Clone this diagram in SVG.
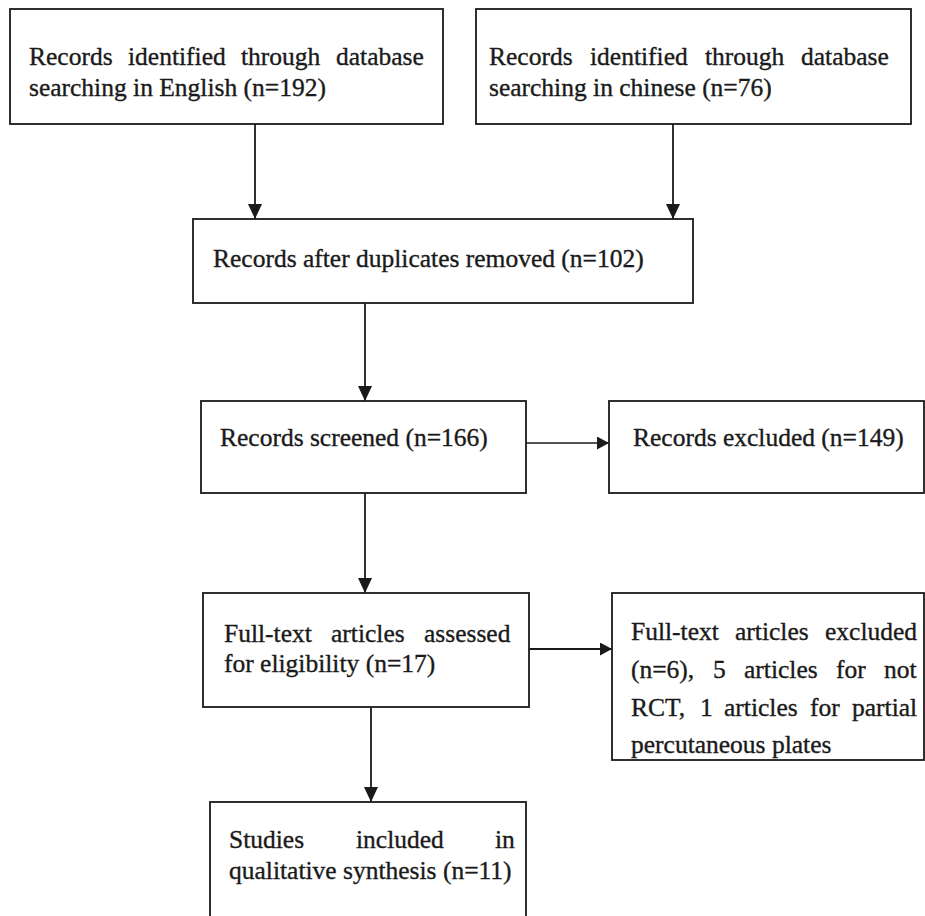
<svg xmlns="http://www.w3.org/2000/svg" width="925" height="916" viewBox="0 0 925 916">
<defs>
<style>
.box{fill:#fff;stroke:#1a1a1a;stroke-width:1.8}
.t{font-family:"Liberation Serif","Times New Roman",serif;font-size:25.5px;fill:#1a1a1a;stroke:#1a1a1a;stroke-width:0.35}
.c{fill:none;stroke:#1a1a1a;stroke-width:1.8}
.ch{fill:none;stroke:#1a1a1a;stroke-width:1.4}
</style>
<marker id="ah" viewBox="0 0 15 14" refX="15" refY="7" markerWidth="15" markerHeight="14" orient="auto" markerUnits="userSpaceOnUse">
<path d="M0,0 L15,7 L0,14 z" fill="#1a1a1a"/>
</marker>
<marker id="ahs" viewBox="0 0 12 13" refX="12" refY="6.5" markerWidth="12" markerHeight="13" orient="auto" markerUnits="userSpaceOnUse">
<path d="M0,0 L12,6.5 L0,13 z" fill="#1a1a1a"/>
</marker>
</defs>
<rect width="925" height="916" fill="#fff"/>

<g id="connectors">
<line class="c" x1="255" y1="124" x2="255" y2="219" marker-end="url(#ah)"/>
<line class="c" x1="673" y1="124" x2="673" y2="219" marker-end="url(#ah)"/>
<line class="c" x1="365" y1="303" x2="365" y2="401" marker-end="url(#ah)"/>
<line class="ch" x1="526" y1="443" x2="609" y2="443" marker-end="url(#ahs)"/>
<line class="c" x1="365" y1="493" x2="365" y2="593" marker-end="url(#ah)"/>
<line class="c" x1="529" y1="649" x2="612" y2="649" marker-end="url(#ahs)"/>
<line class="c" x1="371" y1="707" x2="371" y2="802" marker-end="url(#ah)"/>
</g>

<g id="n1">
<rect class="box" x="10" y="9" width="433" height="115"/>
<text class="t" y="65"><tspan x="29">Records</tspan><tspan x="128">identified</tspan><tspan x="241">through</tspan><tspan x="336">database</tspan></text>
<text class="t" x="29" y="96">searching in English (n=192)</text>
</g>

<g id="n2">
<rect class="box" x="476" y="9" width="435" height="115"/>
<text class="t" y="65"><tspan x="489">Records</tspan><tspan x="590">identified</tspan><tspan x="705">through</tspan><tspan x="801">database</tspan></text>
<text class="t" x="489" y="96">searching in chinese (n=76)</text>
</g>

<g id="n3">
<rect class="box" x="193" y="219" width="500" height="84"/>
<text class="t" x="213" y="267">Records after duplicates removed (n=102)</text>
</g>

<g id="n4">
<rect class="box" x="201" y="401" width="325" height="92"/>
<text class="t" x="220" y="446">Records screened (n=166)</text>
</g>

<g id="n5">
<rect class="box" x="609" y="401" width="315" height="92"/>
<text class="t" x="633" y="446">Records excluded (n=149)</text>
</g>

<g id="n6">
<rect class="box" x="203" y="593" width="326" height="114"/>
<text class="t" y="642"><tspan x="224">Full-text</tspan><tspan x="331">articles</tspan><tspan x="424">assessed</tspan></text>
<text class="t" x="224" y="672">for eligibility (n=17)</text>
</g>

<g id="n7">
<rect class="box" x="612" y="593" width="312" height="167"/>
<text class="t" y="640"><tspan x="631">Full-text</tspan><tspan x="735">articles</tspan><tspan x="825">excluded</tspan></text>
<text class="t" y="678"><tspan x="631">(n=6),</tspan><tspan x="713">5</tspan><tspan x="744">articles</tspan><tspan x="836">for</tspan><tspan x="884">not</tspan></text>
<text class="t" y="716"><tspan x="631">RCT,</tspan><tspan x="700">1</tspan><tspan x="724">articles</tspan><tspan x="810">for</tspan><tspan x="852">partial</tspan></text>
<text class="t" x="631" y="753">percutaneous plates</text>
</g>

<g id="n8">
<rect class="box" x="210" y="802" width="316" height="130"/>
<text class="t" y="848"><tspan x="229">Studies</tspan><tspan x="356">included</tspan><tspan x="495">in</tspan></text>
<text class="t" x="229" y="879">qualitative synthesis (n=11)</text>
</g>
</svg>
